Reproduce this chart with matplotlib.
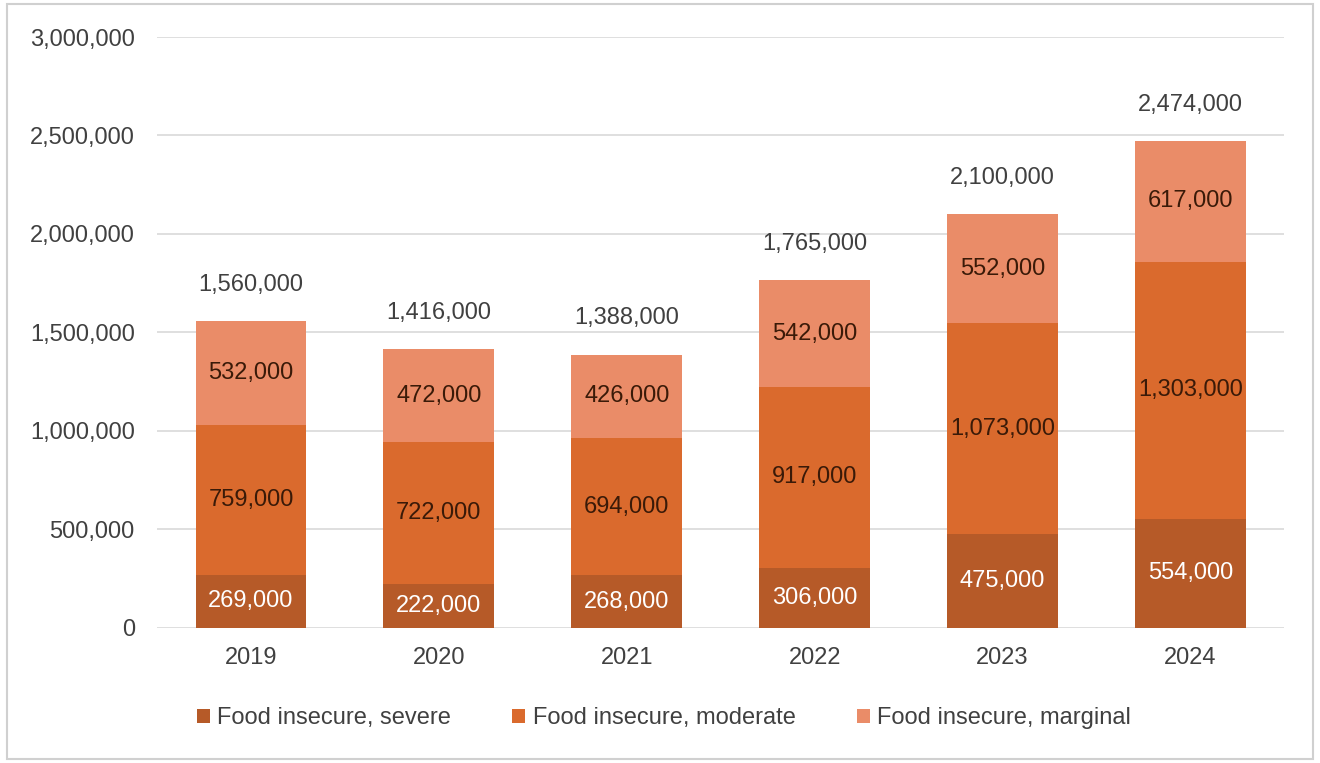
import numpy as np
import matplotlib
matplotlib.use('Agg')
import matplotlib.pyplot as plt
from matplotlib.patches import Rectangle
from matplotlib.ticker import FuncFormatter

# Households by food security status, per year
years = ['2019', '2020', '2021', '2022', '2023', '2024']
severe = [269000, 222000, 268000, 306000, 475000, 554000]
moderate = [759000, 722000, 694000, 917000, 1073000, 1303000]
marginal = [532000, 472000, 426000, 542000, 552000, 617000]
series_names = ['Food insecure, severe', 'Food insecure, moderate', 'Food insecure, marginal']

colores = ['#B65A28', '#DA6A2D', '#EA8C68']
color_texto = ['#FFFFFF', '#3A1A08', '#3A1A08']
fs = 17

plt.rcParams['font.family'] = ['Liberation Sans', 'DejaVu Sans']

fig = plt.figure(figsize=(13.2, 7.63), dpi=100)
ax = fig.add_axes([0.119, 0.177, 0.854, 0.7745])

x = np.arange(len(years))
ancho = 0.59
base = np.zeros(len(years))
for serie, nombre, color, ctxt in zip([severe, moderate, marginal], series_names, colores, color_texto):
    valores = np.array(serie, dtype=float)
    ax.bar(x, valores, ancho, bottom=base, color=color, label=nombre, zorder=3)
    for xi, b, v in zip(x, base, valores):
        ax.text(xi, b + v / 2, f'{int(v):,}', ha='center', va='center',
                fontsize=fs, color=ctxt, zorder=4)
    base += valores

# Totales sobre cada barra
for xi, total in zip(x, base):
    ax.annotate(f'{int(total):,}', (xi, total), xytext=(0, 26), textcoords='offset points',
                ha='center', va='center', fontsize=fs, color='#404040')

ax.set_ylim(0, 3000000)
ax.set_xlim(-0.5, len(years) - 0.5)
ax.set_yticks(np.arange(0, 3000001, 500000))
ax.yaxis.set_major_formatter(FuncFormatter(lambda v, p: f'{int(v):,}'))
ax.set_xticks(x)
ax.set_xticklabels(years)
ax.tick_params(axis='both', length=0, labelsize=fs, labelcolor='#404040')
ax.tick_params(axis='y', pad=16)
ax.tick_params(axis='x', pad=14)
ax.grid(axis='y', color='#D9D9D9', linewidth=1.2, zorder=0)
for s in ax.spines.values():
    s.set_visible(False)

leg = fig.legend(loc='center', bbox_to_anchor=(0.503, 0.059), ncol=3, frameon=False,
                 fontsize=fs, handlelength=0.55, handleheight=0.55, handletextpad=0.3,
                 columnspacing=2.6)
for t in leg.get_texts():
    t.set_color('#404040')

# Marco gris alrededor de la figura
fig.patches.append(Rectangle((0.005, 0.005), 0.99, 0.99, transform=fig.transFigure,
                             fill=False, edgecolor='#D0D0D0', linewidth=1.5))

plt.savefig('out.png', dpi=100)
plt.close()
